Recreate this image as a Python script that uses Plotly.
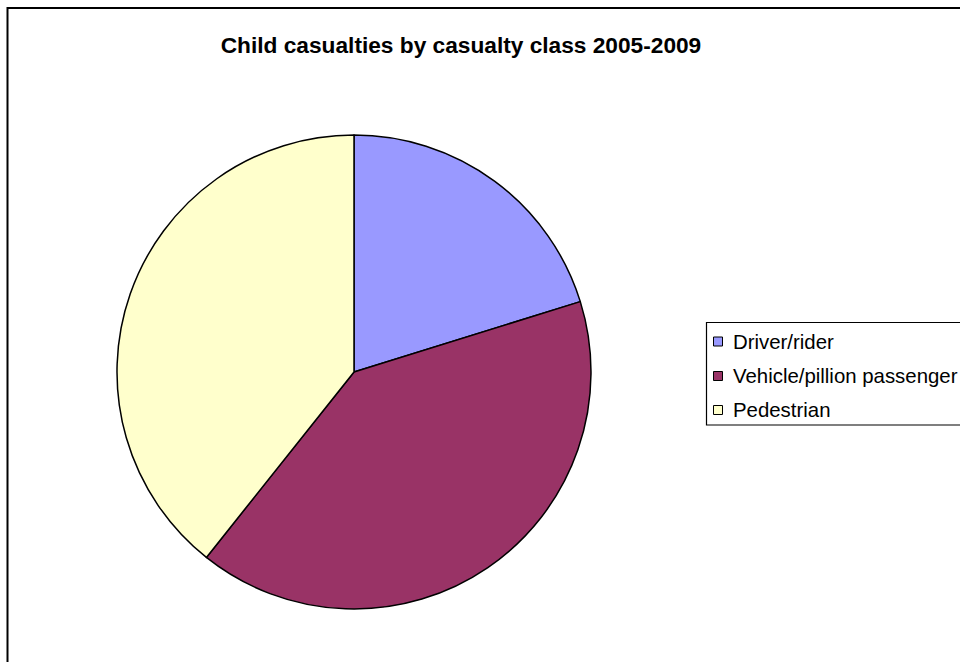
import plotly.graph_objects as go

# Child casualties by class, 2005-2009 (share of total, %)
categories = ["Driver/rider", "Vehicle/pillion passenger", "Pedestrian"]
shares = [20.2, 40.5, 39.3]
colors = ["#9999FF", "#993366", "#FFFFCC"]

W, H = 960, 662

# pie placement in pixels (centre and radius)
cx, cy, r = 354, 372, 237

fig = go.Figure(
    go.Pie(
        labels=categories,
        values=shares,
        sort=False,
        direction="clockwise",
        rotation=0,
        textinfo="none",
        marker=dict(colors=colors, line=dict(color="#000000", width=1.5)),
        domain=dict(
            x=[(cx - r) / W, (cx + r) / W],
            y=[(H - cy - r) / H, (H - cy + r) / H],
        ),
        showlegend=False,
    )
)

shapes = []
annotations = []

# outer chart frame (runs off the right and bottom edges)
shapes.append(dict(type="rect", xref="paper", yref="paper",
                   x0=7.5 / W, x1=1.05, y0=-0.05, y1=1 - 8 / H,
                   line=dict(color="#000000", width=2), fillcolor="rgba(0,0,0,0)"))

# legend frame
lx0, ly0, ly1 = 706.5, 322.5, 425
shapes.append(dict(type="rect", xref="paper", yref="paper",
                   x0=lx0 / W, x1=1.05, y0=1 - ly1 / H, y1=1 - ly0 / H,
                   line=dict(color="#000000", width=1.2), fillcolor="#FFFFFF"))

# legend entries
row_y = [341.5, 376, 410]
sq = 9
for name, col, ry in zip(categories, colors, row_y):
    shapes.append(dict(type="rect", xref="paper", yref="paper",
                       x0=713.5 / W, x1=(713.5 + sq) / W,
                       y0=1 - (ry + sq / 2) / H, y1=1 - (ry - sq / 2) / H,
                       line=dict(color="#000000", width=1), fillcolor=col))
    annotations.append(dict(text=name, xref="paper", yref="paper",
                            x=731 / W, y=1 - ry / H, xanchor="left", yanchor="middle",
                            showarrow=False,
                            font=dict(family="Liberation Sans, Arial", size=20.4, color="#000000")))

fig.update_layout(
    width=W, height=H,
    margin=dict(l=0, r=0, t=0, b=0, autoexpand=False),
    paper_bgcolor="#FFFFFF",
    plot_bgcolor="#FFFFFF",
    title=dict(text="<b>Child casualties by casualty class 2005-2009</b>",
               x=461 / W, xanchor="center", y=1 - 45 / H, yanchor="middle",
               font=dict(family="Liberation Sans, Arial", size=22.7, color="#000000")),
    shapes=shapes,
    annotations=annotations,
)

fig.write_html("out.html")
